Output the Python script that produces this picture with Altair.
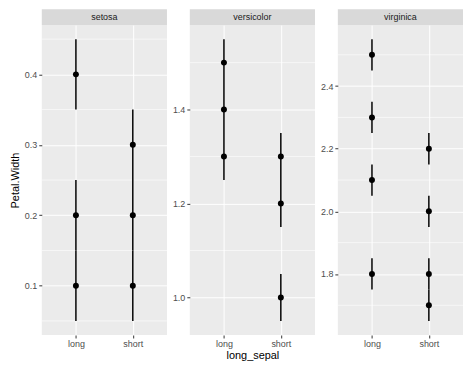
import altair as alt
import pandas as pd

FONT = "Liberation Sans"

# ---- data ----
species_names = ["setosa", "versicolor", "virginica"]

pt_species = (["setosa"] * 6) + (["versicolor"] * 6) + (["virginica"] * 8)
pt_group = (["long", "long", "long", "short", "short", "short"]
            + ["long", "long", "long", "short", "short", "short"]
            + ["long", "long", "long", "long", "short", "short", "short", "short"])
pt_value = ([0.1, 0.2, 0.4, 0.1, 0.2, 0.3]
            + [1.3, 1.4, 1.5, 1.0, 1.2, 1.3]
            + [1.8, 2.1, 2.3, 2.5, 1.7, 1.8, 2.0, 2.2])
pt_low = ([0.05, 0.15, 0.35, 0.05, 0.15, 0.25]
          + [1.25, 1.35, 1.45, 0.95, 1.15, 1.25]
          + [1.75, 2.05, 2.25, 2.45, 1.65, 1.75, 1.95, 2.15])
pt_high = ([0.15, 0.25, 0.45, 0.15, 0.25, 0.35]
           + [1.35, 1.45, 1.55, 1.05, 1.25, 1.35]
           + [1.85, 2.15, 2.35, 2.55, 1.75, 1.85, 2.05, 2.25])

y_domains = {"setosa": [0.03, 0.47], "versicolor": [0.92, 1.58], "virginica": [1.605, 2.595]}
major_ticks = {"setosa": [0.1, 0.2, 0.3, 0.4], "versicolor": [1.0, 1.2, 1.4],
               "virginica": [1.8, 2.0, 2.2, 2.4]}
minor_ticks = {"setosa": [0.05, 0.15, 0.25, 0.35, 0.45], "versicolor": [1.1, 1.3, 1.5],
               "virginica": [1.7, 1.9, 2.1, 2.3, 2.5]}
x_categories = ["long", "short"]

df = pd.DataFrame({"species": pt_species, "long_sepal": pt_group, "pw": pt_value,
                   "lo": pt_low, "hi": pt_high})

W, H, STRIP = 126, 312, 16
PANEL_BG = "#EBEBEB"
STRIP_BG = "#D9D9D9"


def panel(sp, first, middle):
    d = df[df["species"] == sp]
    yscale = alt.Scale(domain=y_domains[sp], nice=False, zero=False)
    xscale = alt.Scale(type="point", padding=0.6, domain=x_categories)
    xaxis = alt.Axis(title="long_sepal" if middle else None, grid=True, gridColor="white",
                     gridWidth=1, domain=False, ticks=True, tickColor="#333333", tickSize=3,
                     labelColor="#4D4D4D", labelFontSize=9, labelFont=FONT, labelAngle=0,
                     labelPadding=2, titleFont=FONT, titleFontSize=11,
                     titleFontWeight="normal", titleColor="black", titlePadding=1)
    yaxis = alt.Axis(title="Petal.Width" if first else None, values=major_ticks[sp],
                     format=".1f", grid=True, gridColor="white", gridWidth=1, domain=False,
                     tickColor="#333333", tickSize=3, labelColor="#4D4D4D", labelFontSize=9,
                     labelFont=FONT, labelPadding=2, titleFont=FONT, titleFontSize=11,
                     titleFontWeight="normal", titleColor="black", titlePadding=4)

    minor = alt.Chart(pd.DataFrame({"pw": minor_ticks[sp]})).mark_rule(
        color="white", strokeWidth=0.6).encode(
        y=alt.Y("pw:Q", scale=yscale, axis=yaxis))
    bars = alt.Chart(d).mark_rule(color="black", strokeWidth=1.5).encode(
        x=alt.X("long_sepal:N", scale=xscale, axis=xaxis),
        y=alt.Y("lo:Q", scale=yscale, axis=yaxis),
        y2="hi:Q")
    pts = alt.Chart(d).mark_circle(color="black", size=36, opacity=1).encode(
        x=alt.X("long_sepal:N", scale=xscale, axis=xaxis),
        y=alt.Y("pw:Q", scale=yscale, axis=yaxis))
    return alt.layer(minor, bars, pts).properties(
        width=W, height=H, view=alt.ViewBackground(fill=PANEL_BG, stroke=None))


def strip(sp):
    return alt.Chart(pd.DataFrame({"species": [sp]})).mark_text(
        font=FONT, fontSize=9, color="#1A1A1A", baseline="middle", align="center").encode(
        text="species:N").properties(
        width=W, height=STRIP, view=alt.ViewBackground(fill=STRIP_BG, stroke=None))


cells = [strip(s) for s in species_names] + \
        [panel(s, i == 0, i == 1) for i, s in enumerate(species_names)]

chart = alt.ConcatChart(concat=cells, columns=3, bounds="flush",
                        spacing=alt.RowColnumber(row=0, column=23)).properties(
    padding={"left": 1, "top": 0, "right": 0, "bottom": 0},
    background="white",
)

chart.save("out.html", embed_options={"renderer": "svg", "actions": False})
